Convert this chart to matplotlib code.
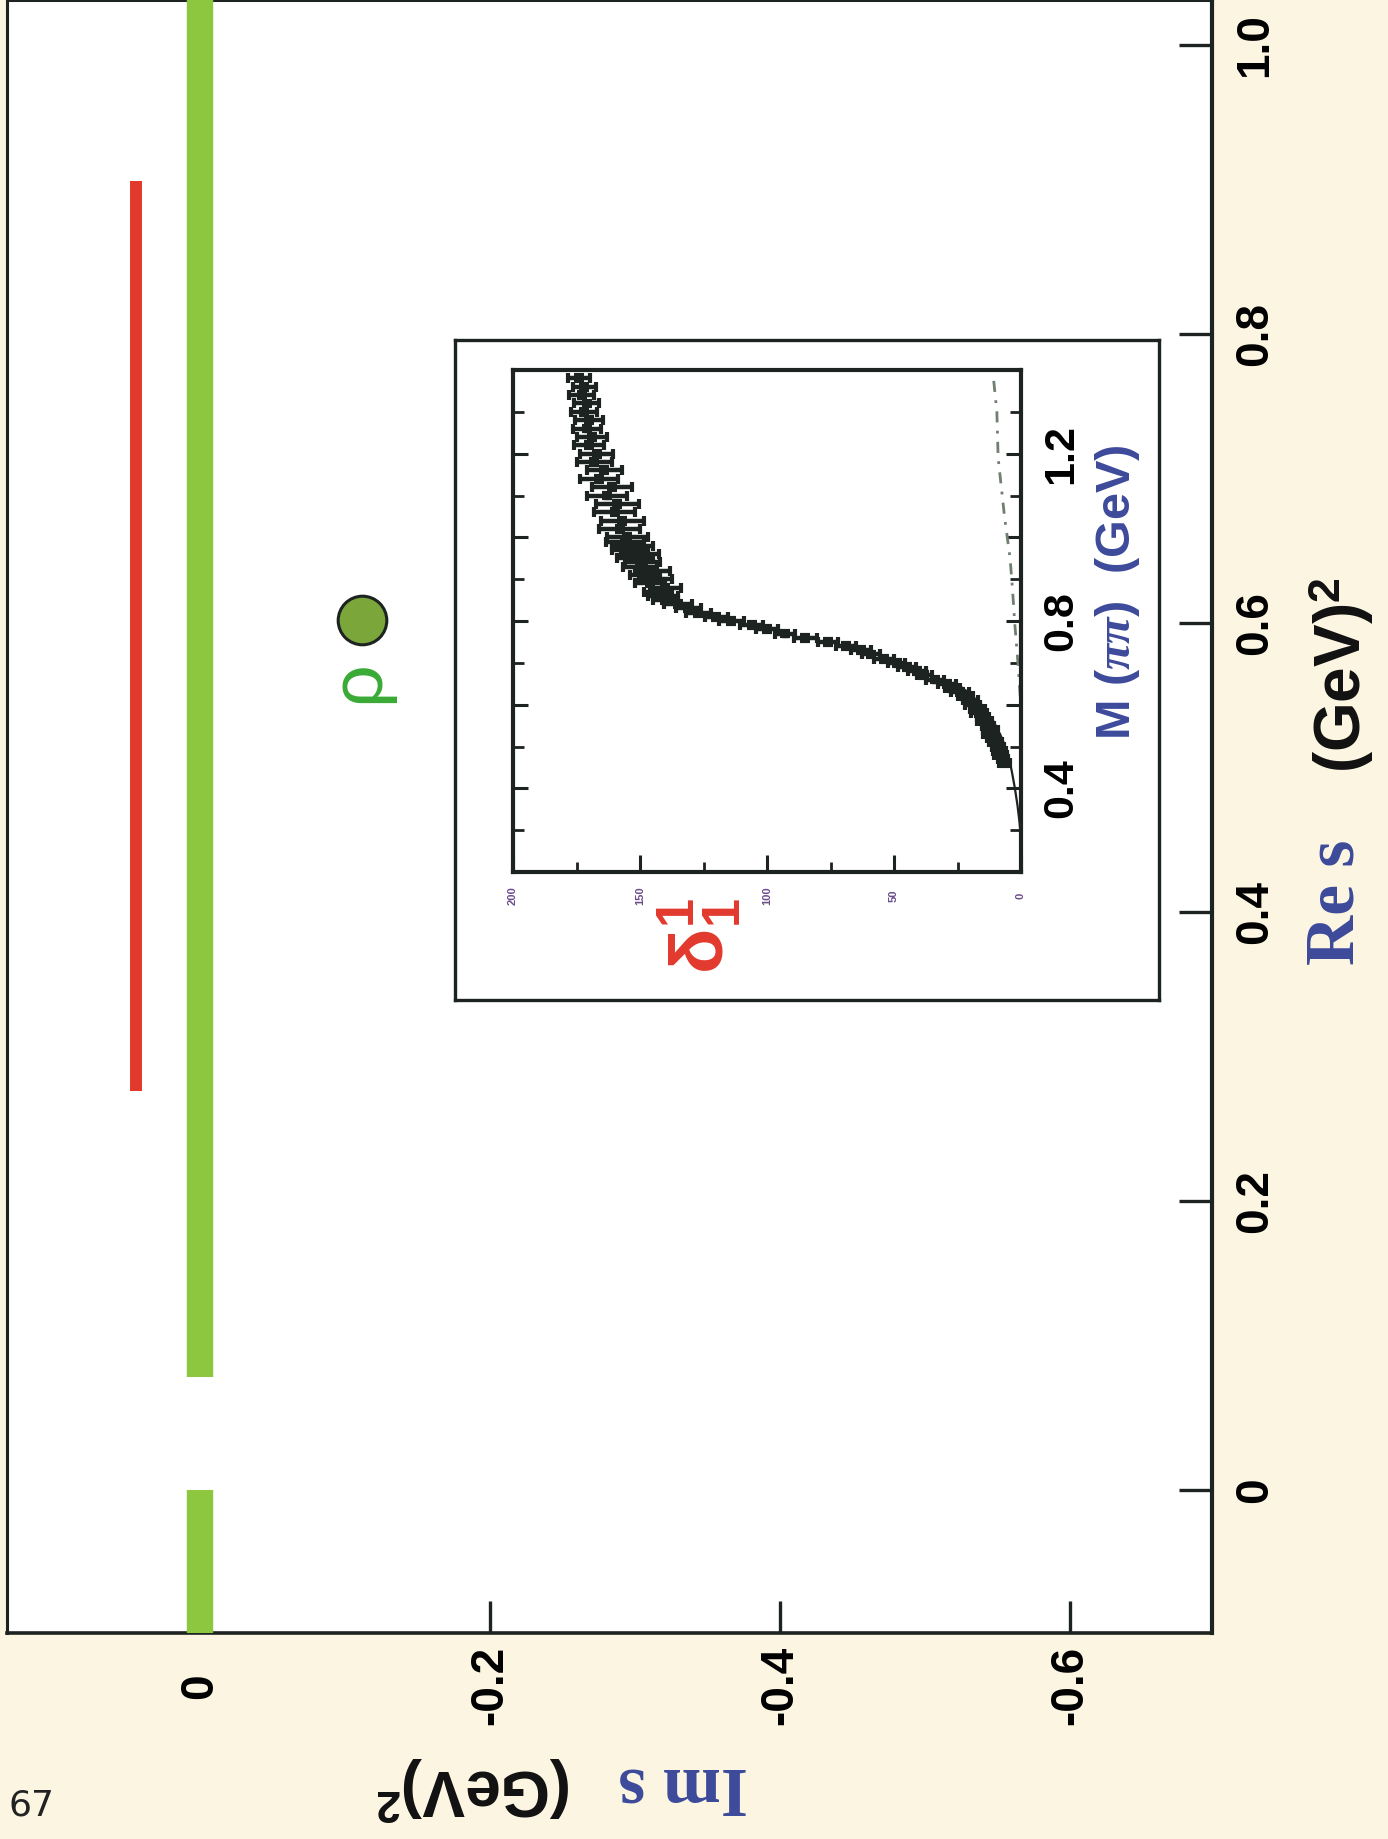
import matplotlib
matplotlib.use("Agg")
import matplotlib.pyplot as plt
from matplotlib.ticker import FixedLocator, FixedFormatter

W, H, DPI = 1388, 1839, 100

plt.rcParams["font.family"] = ["Liberation Sans", "DejaVu Sans"]
plt.rcParams["font.weight"] = "bold"
plt.rcParams["mathtext.fontset"] = "custom"
plt.rcParams["mathtext.rm"] = "Liberation Sans:bold"
plt.rcParams["mathtext.bf"] = "Liberation Sans:bold"
plt.rcParams["mathtext.it"] = "Liberation Serif:italic:bold"

# ---- complex s-plane (Im s across, Re s up the page) ----
re_lim = (-0.099, 1.031)
im_lim = (0.133, -0.698)
re_ticks = [0.0, 0.2, 0.4, 0.6, 0.8, 1.0]
re_ticklabels = ["0", "0.2", "0.4", "0.6", "0.8", "1.0"]
im_ticks = [0.0, -0.2, -0.4, -0.6]
im_ticklabels = ["0", "-0.2", "-0.4", "-0.6"]

cut_im = 0.0            # both cuts lie on the real axis
right_cut_start = 0.078  # threshold 4 m_pi^2
left_cut_end = 0.0
red_im = 0.044
red_re = [0.276, 0.906]
rho_re = 0.602
rho_im = -0.112

# ---- inset: P-wave phase shift delta_1^1 vs M(pi pi) ----
m_data = [0.46, 0.47, 0.48, 0.49,
          0.50, 0.51, 0.52, 0.53, 0.54, 0.55, 0.56, 0.57, 0.58, 0.59,
          0.60, 0.61, 0.62, 0.63, 0.64, 0.65, 0.66, 0.67, 0.68, 0.69,
          0.70, 0.71, 0.72, 0.73, 0.74, 0.75, 0.76, 0.77, 0.78, 0.79,
          0.80, 0.81, 0.82, 0.83, 0.84, 0.85, 0.86, 0.87, 0.88, 0.89,
          0.90, 0.91, 0.92, 0.93, 0.94, 0.95, 0.96, 0.97, 0.98, 0.99,
          1.00, 1.02, 1.04, 1.06, 1.08, 1.10, 1.12, 1.14, 1.16, 1.18,
          1.20, 1.22, 1.24, 1.26, 1.28, 1.30, 1.32, 1.34, 1.36, 1.38]
delta_data = [6.5, 7, 8, 8.5,
              9, 10, 11, 12.5, 12, 13, 14.5, 15, 16.5, 17,
              19, 20, 22, 24, 27, 29, 34, 38, 41, 45,
              49, 54, 59, 63, 69, 76, 85, 93, 100, 106,
              114, 120, 127, 131, 135, 140, 141, 143, 140, 146,
              144, 148, 145, 150, 149, 152, 150, 154, 153, 156,
              155, 158, 157, 160, 159, 163, 161, 166, 164, 168,
              167, 170, 169, 171, 170, 172, 171, 173, 172, 174]
delta_err = [2, 2, 2.5, 2.5,
             2.5, 2.5, 2.5, 2.5, 3, 2.5, 3, 2.5, 3, 3,
             3, 3, 3, 3.5, 3, 3.5, 3.5, 3, 3.5, 3.5,
             3.5, 4, 3.5, 4, 4, 4, 4.5, 4, 4.5, 4.5,
             5, 4.5, 5, 5, 5.5, 5, 6, 5.5, 6, 6,
             6.5, 6, 7, 6.5, 7, 7, 7.5, 7, 8, 7.5,
             8, 8, 8.5, 8, 8.5, 8, 8, 7.5, 7, 7,
             6.5, 6, 6, 5.5, 5.5, 5, 5, 5, 4.5, 4.5]
m_halfbin = 0.007
m_fit = [0.28, 0.32, 0.36, 0.40, 0.44, 0.48, 0.52, 0.56, 0.60, 0.64]
delta_fit = [0.0, 0.6, 1.4, 2.4, 3.6, 5.0, 7.5, 10.8, 15.5, 23.0]
m_dash = [0.62, 0.70, 0.79, 0.88, 0.95, 1.05, 1.19, 1.30, 1.39]
delta_dash = [0.3, 1.2, 2.4, 3.4, 4.3, 6.5, 9.0, 9.5, 11.0]
delta_lim = (200, 0)
m_lim = (0.2, 1.4)
delta_ticks = [0, 50, 100, 150, 200]
delta_minor = [25, 75, 125, 175]
delta_ticklabels = ["0", "50", "100", "150", "200"]
m_ticks = [0.4, 0.6, 0.8, 1.0, 1.2]
m_minor = [0.3, 0.5, 0.7, 0.9, 1.1, 1.3]
m_ticklabels = ["0.4", "", "0.8", "", "1.2"]

GREEN = "#8dc63f"
RED = "#e2392d"
BLUE = "#3c4a9a"
INK = "#1c2320"
PAGE = "#fbf5e2"


def fx(x):
    return x / W


def fy(y):
    return 1 - y / H


fig = plt.figure(figsize=(W / DPI, H / DPI), dpi=DPI, facecolor=PAGE)

# main axes
ax = fig.add_axes([fx(7), fy(1633), (1212 - 7) / W, 1633 / H])
ax.set_facecolor("white")
ax.set_xlim(*im_lim)
ax.set_ylim(*re_lim)
for side, lw in (("left", 2.2), ("right", 3.0), ("bottom", 2.6), ("top", 2.2)):
    ax.spines[side].set_linewidth(lw)
    ax.spines[side].set_color(INK)

ax.yaxis.tick_right()
ax.set_yticks(re_ticks)
ax.set_yticklabels(re_ticklabels)
ax.set_xticks(im_ticks)
ax.set_xticklabels(im_ticklabels)
ax.tick_params(axis="y", direction="in", length=24, width=2.4, color=INK,
               labelsize=33, pad=31, labelrotation=90, right=True, left=False)
ax.tick_params(axis="x", direction="in", length=23, width=2.4, color=INK,
               labelsize=33, pad=38, labelrotation=90, bottom=True, top=False)
for lab in ax.get_yticklabels():
    lab.set_ha("center")
    lab.set_va("center")
for lab in ax.get_xticklabels():
    lab.set_ha("center")
    lab.set_va("center")

# cuts on the real axis
ax.plot([cut_im, cut_im], [right_cut_start, re_lim[1] + 0.05], color=GREEN,
        lw=19, solid_capstyle="butt", zorder=3)
ax.plot([cut_im, cut_im], [re_lim[0] - 0.05, left_cut_end], color=GREEN,
        lw=19, solid_capstyle="butt", zorder=3)
ax.plot([red_im, red_im], red_re, color=RED, lw=8.6,
        solid_capstyle="butt", zorder=3)

# rho pole
ax.plot([rho_im], [rho_re], "o", ms=35, mfc="#7aa63a", mec=INK, mew=2.2,
        zorder=4)
ax.annotate("ρ", xy=(rho_im, rho_re), xytext=(-4, -62),
            textcoords="offset pixels", ha="center", va="center",
            rotation=90, fontsize=54, color="#3aaa35", fontweight="normal")

# inset frame
frame = fig.add_axes([fx(455), fy(1000), (1159 - 455) / W, (1000 - 340) / H])
frame.set_facecolor("white")
frame.set_xticks([])
frame.set_yticks([])
for s in frame.spines.values():
    s.set_linewidth(2.4)
    s.set_color(INK)

axi = fig.add_axes([fx(513), fy(872), 508 / W, 502 / H])
axi.set_facecolor("white")
axi.set_xlim(*delta_lim)
axi.set_ylim(*m_lim)
for s in axi.spines.values():
    s.set_linewidth(3.0)
    s.set_color(INK)
axi.xaxis.set_major_locator(FixedLocator(delta_ticks))
axi.xaxis.set_minor_locator(FixedLocator(delta_minor))
axi.xaxis.set_major_formatter(FixedFormatter(delta_ticklabels))
axi.yaxis.set_major_locator(FixedLocator(m_ticks))
axi.yaxis.set_minor_locator(FixedLocator(m_minor))
axi.yaxis.set_major_formatter(FixedFormatter(m_ticklabels))
axi.tick_params(axis="x", which="major", direction="in", length=12, width=2.2,
                color=INK, bottom=True, top=False, labelsize=8,
                labelcolor="#6a4e8a", labelrotation=90, pad=17)
axi.tick_params(axis="x", which="minor", direction="in", length=7, width=2.0,
                color=INK, bottom=True, top=False)
axi.tick_params(axis="y", which="major", direction="in", length=11, width=2.2,
                color=INK, left=True, right=True, labelleft=False,
                labelright=True, labelsize=31, labelrotation=90, pad=29)
axi.tick_params(axis="y", which="minor", direction="in", length=8, width=2.0,
                color=INK, left=True, right=True)
for lab in axi.get_yticklabels():
    lab.set_ha("center")
    lab.set_va("center")
for lab in axi.get_xticklabels():
    lab.set_ha("center")
    lab.set_va("center")

axi.plot(delta_fit, m_fit, color=INK, lw=1.6, zorder=2)
axi.plot(delta_dash, m_dash, color="#6f7f70", lw=2.0,
         ls=(0, (4, 3, 1, 3)), zorder=2)
axi.errorbar(delta_data, m_data, xerr=delta_err, yerr=m_halfbin, fmt="s",
             ms=5, color=INK, ecolor=INK, elinewidth=3.2, capsize=3.5,
             capthick=3.0, zorder=3)

# inset labels
fig.text(fx(700), fy(936), r"$\mathrm{\delta}^{1}_{1}$", rotation=90,
         color=RED, fontsize=54, ha="center", va="center")
fig.text(fx(1118), fy(592), r"M ($\pi\pi$)  (GeV)", rotation=90,
         color=BLUE, fontsize=35, ha="center", va="center")

# axis titles
fig.text(fx(1337), fy(902), "Re s", rotation=90, color=BLUE, fontsize=50,
         family="Liberation Serif", weight="bold", ha="center", va="center")
fig.text(fx(1341), fy(675), r"(GeV)$^2$", rotation=90, color="#111111",
         fontsize=46, ha="center", va="center")
fig.text(fx(683), fy(1786), "Im s", rotation=180, color=BLUE, fontsize=50,
         family="Liberation Serif", weight="bold", ha="center", va="center")
fig.text(fx(474), fy(1789), r"(GeV)$^2$", rotation=180, color="#111111",
         fontsize=46, ha="center", va="center")

fig.text(fx(32), fy(1806), "67", fontsize=26, color="#222222",
         fontweight="normal", family="DejaVu Sans", ha="center", va="center")

fig.savefig("out.png", dpi=DPI, facecolor=PAGE)
